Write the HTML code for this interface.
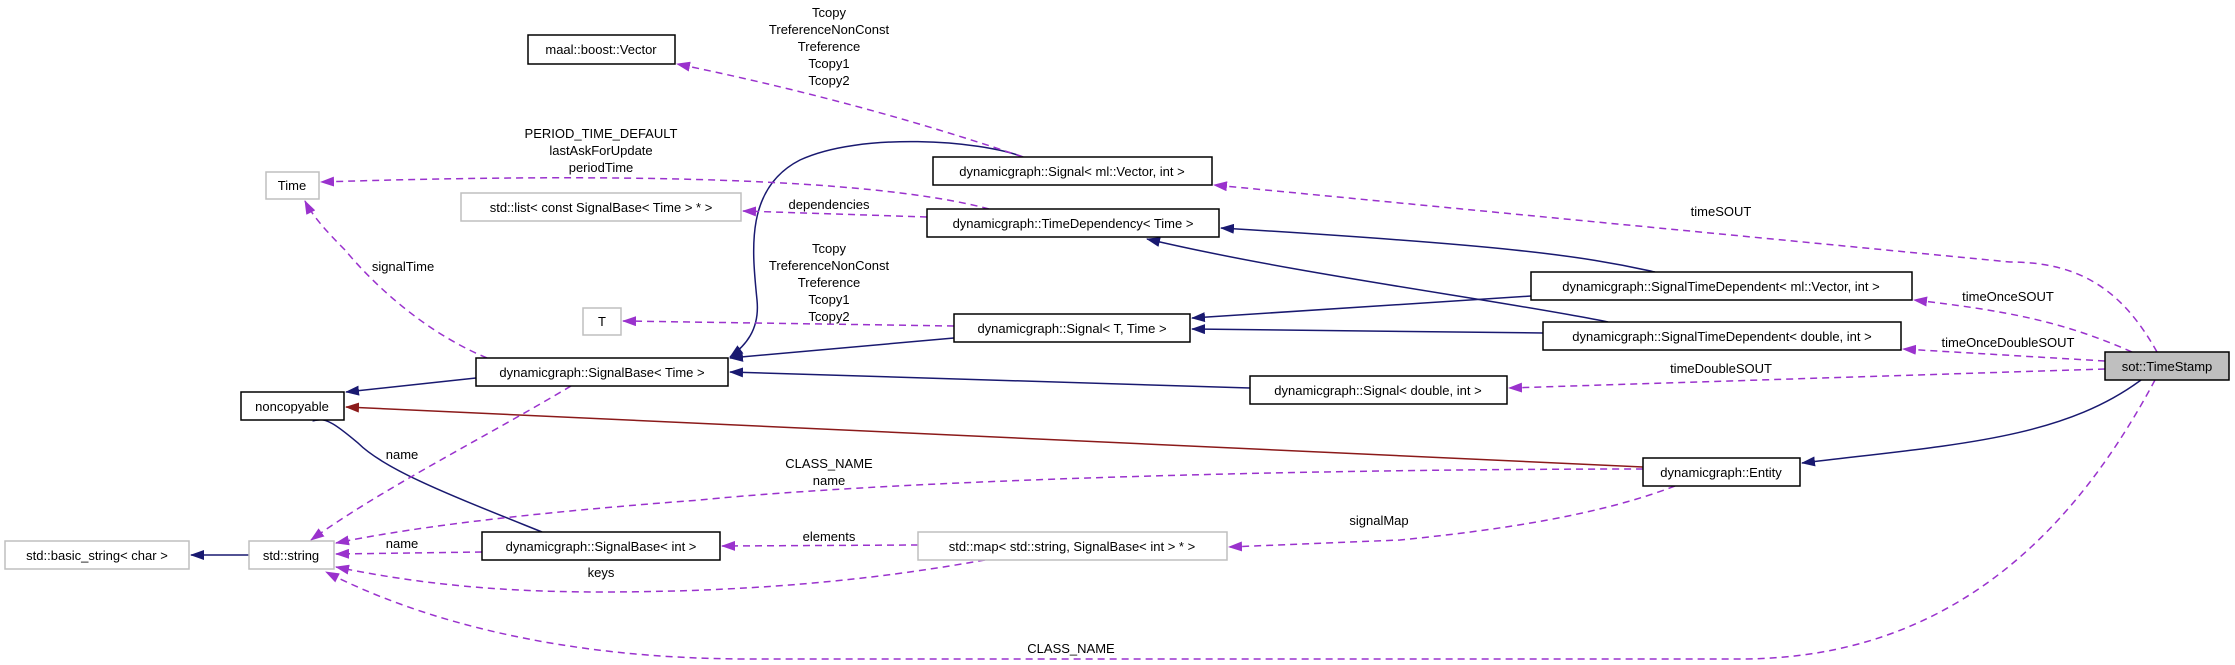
<!DOCTYPE html>
<html><head><meta charset="utf-8"><style>
html,body{margin:0;padding:0;background:#fff;}
svg{display:block;}
text{font-family:"Liberation Sans","DejaVu Sans",sans-serif;font-size:13px;fill:#000;}
</style></head><body>
<svg width="2235" height="665" viewBox="0 0 2235 665" xmlns="http://www.w3.org/2000/svg">
<defs>
<marker id="b" markerWidth="14" markerHeight="10" refX="13" refY="5" orient="auto" markerUnits="userSpaceOnUse"><path d="M0,0 L14,5 L0,10 z" fill="#191970"/></marker>
<marker id="p" markerWidth="14" markerHeight="10" refX="13" refY="5" orient="auto" markerUnits="userSpaceOnUse"><path d="M0,0 L14,5 L0,10 z" fill="#9a32cd"/></marker>
<marker id="r" markerWidth="14" markerHeight="10" refX="13" refY="5" orient="auto" markerUnits="userSpaceOnUse"><path d="M0,0 L14,5 L0,10 z" fill="#8b1a1a"/></marker>
</defs>
<g fill="none" stroke-width="1.5">
<!-- blue inheritance -->
<path d="M1023,157 C980,140 860,132 800,160 C745,188 752,250 757,300 C760,330 745,346 730,357" stroke="#191970" marker-end="url(#b)"/>
<path d="M954,338 L730,358" stroke="#191970" marker-end="url(#b)"/>
<path d="M1250,388 L730,372" stroke="#191970" marker-end="url(#b)"/>
<path d="M1655,272 C1580,255 1500,245 1221,228" stroke="#191970" marker-end="url(#b)"/>
<path d="M1531,296 L1192,318" stroke="#191970" marker-end="url(#b)"/>
<path d="M1608,322 C1500,300 1300,275 1147,239" stroke="#191970" marker-end="url(#b)"/>
<path d="M1543,333 L1192,329" stroke="#191970" marker-end="url(#b)"/>
<path d="M2141,380 C2060,440 1950,445 1802,463" stroke="#191970" marker-end="url(#b)"/>
<path d="M476,378 L346,392" stroke="#191970" marker-end="url(#b)"/>
<path d="M542,532 C450,495 385,470 358,443 C340,428 325,415 313,421" stroke="#191970" marker-end="url(#b)"/>
<path d="M249,555 L191,555" stroke="#191970" marker-end="url(#b)"/>
<!-- red -->
<path d="M1643,467 L346,407" stroke="#8b1a1a" marker-end="url(#r)"/>
<!-- purple dashed -->
<g stroke="#9a32cd" stroke-dasharray="7,5">
<path d="M989,209 C900,185 700,170 321,182" marker-end="url(#p)"/>
<path d="M927,217 L743,211" marker-end="url(#p)"/>
<path d="M1023,157 C900,115 780,85 677,64" marker-end="url(#p)"/>
<path d="M954,326 L623,321" marker-end="url(#p)"/>
<path d="M2157,352 C2125,295 2085,262 2010,262 L1214,185" marker-end="url(#p)"/>
<path d="M2132,352 C2060,320 2000,310 1914,300" marker-end="url(#p)"/>
<path d="M2105,361 L1903,349" marker-end="url(#p)"/>
<path d="M2105,369 L1509,388" marker-end="url(#p)"/>
<path d="M2155,380 C2080,520 1960,659 1740,659 L750,659 C560,659 420,620 326,572" marker-end="url(#p)"/>
<path d="M1643,469 C1300,469 900,480 700,500 C500,515 400,530 336,543" marker-end="url(#p)"/>
<path d="M571,386 C480,440 380,490 311,540" marker-end="url(#p)"/>
<path d="M482,552 L336,554" marker-end="url(#p)"/>
<path d="M918,545 L722,546" marker-end="url(#p)"/>
<path d="M985,560 C900,575 780,592 600,592 C480,592 400,580 336,567" marker-end="url(#p)"/>
<path d="M1675,486 C1600,515 1500,530 1400,540 L1229,547" marker-end="url(#p)"/>
<path d="M487,358 C420,330 370,280 345,250 C325,230 312,215 305,201" marker-end="url(#p)"/>
</g>
</g>
<!-- nodes -->
<g stroke-width="1.5">
<rect x="528" y="35" width="147" height="29" fill="#fff" stroke="#000"/>
<rect x="266" y="172" width="53" height="27" fill="#fff" stroke="#bfbfbf"/>
<rect x="461" y="193" width="280" height="28" fill="#fff" stroke="#bfbfbf"/>
<rect x="583" y="308" width="38" height="27" fill="#fff" stroke="#bfbfbf"/>
<rect x="476" y="358" width="252" height="28" fill="#fff" stroke="#000"/>
<rect x="241" y="392" width="103" height="28" fill="#fff" stroke="#000"/>
<rect x="5" y="541" width="184" height="28" fill="#fff" stroke="#bfbfbf"/>
<rect x="249" y="541" width="85" height="28" fill="#fff" stroke="#bfbfbf"/>
<rect x="482" y="532" width="238" height="28" fill="#fff" stroke="#000"/>
<rect x="933" y="157" width="279" height="28" fill="#fff" stroke="#000"/>
<rect x="927" y="209" width="292" height="28" fill="#fff" stroke="#000"/>
<rect x="954" y="314" width="236" height="28" fill="#fff" stroke="#000"/>
<rect x="1250" y="376" width="257" height="28" fill="#fff" stroke="#000"/>
<rect x="918" y="532" width="309" height="28" fill="#fff" stroke="#bfbfbf"/>
<rect x="1531" y="272" width="381" height="28" fill="#fff" stroke="#000"/>
<rect x="1543" y="322" width="358" height="28" fill="#fff" stroke="#000"/>
<rect x="2105" y="352" width="124" height="28" fill="#bfbfbf" stroke="#000"/>
<rect x="1643" y="458" width="157" height="28" fill="#fff" stroke="#000"/>
</g>
<g text-anchor="middle">
<text x="601" y="54">maal::boost::Vector</text>
<text x="292" y="190">Time</text>
<text x="601" y="212">std::list&lt; const SignalBase&lt; Time &gt; * &gt;</text>
<text x="602" y="326">T</text>
<text x="602" y="377">dynamicgraph::SignalBase&lt; Time &gt;</text>
<text x="292" y="411">noncopyable</text>
<text x="97" y="560">std::basic_string&lt; char &gt;</text>
<text x="291" y="560">std::string</text>
<text x="601" y="551">dynamicgraph::SignalBase&lt; int &gt;</text>
<text x="1072" y="176">dynamicgraph::Signal&lt; ml::Vector, int &gt;</text>
<text x="1073" y="228">dynamicgraph::TimeDependency&lt; Time &gt;</text>
<text x="1072" y="333">dynamicgraph::Signal&lt; T, Time &gt;</text>
<text x="1378" y="395">dynamicgraph::Signal&lt; double, int &gt;</text>
<text x="1072" y="551">std::map&lt; std::string, SignalBase&lt; int &gt; * &gt;</text>
<text x="1721" y="291">dynamicgraph::SignalTimeDependent&lt; ml::Vector, int &gt;</text>
<text x="1722" y="341">dynamicgraph::SignalTimeDependent&lt; double, int &gt;</text>
<text x="2167" y="371">sot::TimeStamp</text>
<text x="1721" y="477">dynamicgraph::Entity</text>
<!-- edge labels -->
<text x="829" y="17">Tcopy</text>
<text x="829" y="34">TreferenceNonConst</text>
<text x="829" y="51">Treference</text>
<text x="829" y="68">Tcopy1</text>
<text x="829" y="85">Tcopy2</text>
<text x="601" y="138">PERIOD_TIME_DEFAULT</text>
<text x="601" y="155">lastAskForUpdate</text>
<text x="601" y="172">periodTime</text>
<text x="829" y="209">dependencies</text>
<text x="829" y="253">Tcopy</text>
<text x="829" y="270">TreferenceNonConst</text>
<text x="829" y="287">Treference</text>
<text x="829" y="304">Tcopy1</text>
<text x="829" y="321">Tcopy2</text>
<text x="403" y="271">signalTime</text>
<text x="1721" y="216">timeSOUT</text>
<text x="2008" y="301">timeOnceSOUT</text>
<text x="2008" y="347">timeOnceDoubleSOUT</text>
<text x="1721" y="373">timeDoubleSOUT</text>
<text x="402" y="459">name</text>
<text x="829" y="468">CLASS_NAME</text>
<text x="829" y="485">name</text>
<text x="829" y="541">elements</text>
<text x="1379" y="525">signalMap</text>
<text x="402" y="548">name</text>
<text x="601" y="577">keys</text>
<text x="1071" y="653">CLASS_NAME</text>
</g>
</svg>
</body></html>
